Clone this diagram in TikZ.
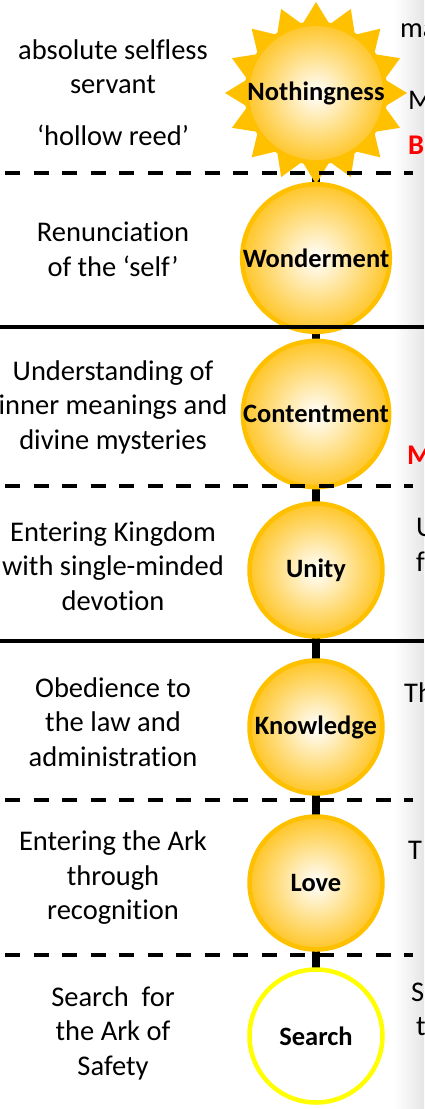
\documentclass[tikz,border=0pt]{standalone}
\usepackage{fontspec}
\setmainfont[Ligatures={TeX,NoCommon}]{Carlito}
\usetikzlibrary{shapes.geometric,backgrounds}
\definecolor{sunline}{HTML}{FFC000}
\definecolor{sunfill}{HTML}{FFC629}
\definecolor{seekline}{HTML}{FFFF00}
\definecolor{markred}{HTML}{FF0000}
\tikzset{ring/.style={circle,line width=4.5pt,minimum size=133pt,inner sep=0pt,font=\fontsize{26.5}{30}\selectfont\bfseries}}
\tikzset{stage/.style={ring,draw=sunline,inner color=white,outer color=sunfill}}
\tikzset{seek/.style={ring,draw=seekline,fill=white}}
\tikzset{rays/.style={star,star points=16,star point ratio=1.3,minimum size=182pt,inner sep=0pt,fill=sunline}}
\tikzset{note/.style={align=center,inner sep=0pt,font=\fontsize{28.5}{34.5}\selectfont}}
\tikzset{cut/.style={anchor=base west,inner sep=0pt,font=\fontsize{28.5}{34.5}\selectfont}}
\tikzset{stem/.style={line width=8pt}}
\tikzset{split/.style={line width=4pt}}
\tikzset{gap/.style={line width=4pt,dash pattern=on 15pt off 13.5pt}}

\begin{document}
\begin{tikzpicture}[x=1pt,y=-1pt]
    \useasboundingbox (0,0) rectangle (424,1109);
    \shade[left color=white,right color=black!10] (394,0) rectangle (424,1109);
    \node[rays] (sun) at (316,93) {};
    \node[stage,minimum size=122pt] (nth) at (316,93) {Nothingness};
    \node[stage] (wdr) at (316,258) {Wonderment};
    \node[stage] (cnt) at (316,414) {Contentment};
    \node[stage] (uny) at (316,570) {Unity};
    \node[stage] (knw) at (316,727) {Knowledge};
    \node[stage] (lov) at (316,883) {Love};
    \node[seek] (src) at (316,1036) {Search};
    \begin{pgfonlayer}{background}
        \draw[stem] (src.center) -- (nth.center);
    \end{pgfonlayer}
    \foreach \y in {173,486,800,955}
        \draw[gap] (5,\y) -- (413,\y);
    \foreach \y in {327,641}
        \draw[split] (0,\y) -- (424,\y);
    \node[note] (l1) at (113,66.5) {absolute selfless\\servant};
    \node[note] (l1b) at (113,135) {`hollow reed'};
    \node[note] (l2) at (113,249.5) {Renunciation\\of the `self'};
    \node[note] (l3) at (113,407) {Understanding of\\inner meanings and\\divine mysteries};
    \node[note] (l4) at (113,566) {Entering Kingdom\\with single-minded\\devotion};
    \node[note] (l5) at (113,722) {Obedience to\\the law and\\administration};
    \node[note] (l6) at (113,878) {Entering the Ark\\through\\recognition};
    \node[note] (l7) at (113,1033) {Search\ \ for\\the Ark of\\Safety};
    \node[cut] (r1) at (400,37) {ma};
    \node[cut] (r2) at (408,109) {M};
    \node[cut,text=markred,font=\fontsize{28.5}{34.5}\selectfont\bfseries] (r3) at (408,154) {B};
    \node[cut,text=markred,font=\fontsize{28.5}{34.5}\selectfont\bfseries] (r4) at (407,464) {M};
    \node[cut] (r5) at (416,536) {U};
    \node[cut] (r6) at (416,571) {f};
    \node[cut] (r7) at (404,702) {Th};
    \node[cut] (r8) at (408,859) {T};
    \node[cut] (r9) at (411,1001) {S};
    \node[cut] (r10) at (416,1035) {t};
\end{tikzpicture}
\end{document}
